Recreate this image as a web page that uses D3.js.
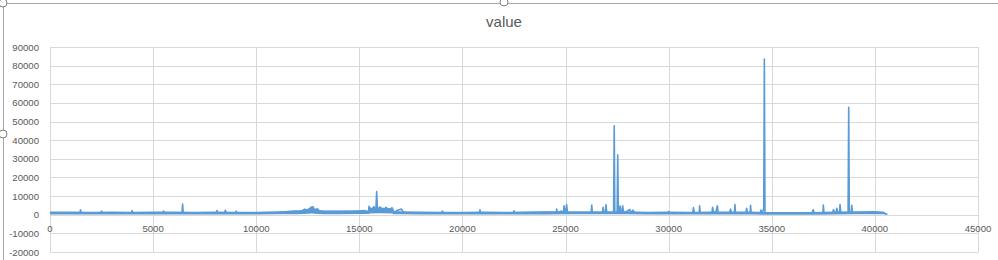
<!DOCTYPE html>
<html>
<head>
<meta charset="utf-8">
<script src="https://cdn.jsdelivr.net/npm/d3@7"></script>
<style>
  body { margin: 0; background: #fff; }
  svg { display: block; font-family: "Liberation Sans", Arial, sans-serif; }
  .grid line { stroke: #d9d9d9; stroke-width: 1; shape-rendering: crispEdges; }
  .tick-label { fill: #595959; font-size: 9.6px; }
  .title { fill: #595959; font-size: 15px; }
  .series { fill: none; stroke: #5b9bd5; stroke-width: 1.6; stroke-linejoin: round; }
  .band { fill: #5b9bd5; stroke: none; }
  .frame { stroke: #a6a6a6; stroke-width: 1; fill: none; }
  .handle { fill: #fff; stroke: #7f7f7f; stroke-width: 1; }
</style>
</head>
<body>
<svg id="chart" width="998" height="260"></svg>
<script>
const chartTitle = 'value';
const xTicks = [0, 5000, 10000, 15000, 20000, 25000, 30000, 35000, 40000, 45000];
const yTicks = [-20000, -10000, 0, 10000, 20000, 30000, 40000, 50000, 60000, 70000, 80000, 90000];

// dense noise of the line: low / high envelope
const bandX  = [0, 1000, 2000, 3000, 4000, 5000, 6000, 7000, 8000, 9000, 10000, 11000, 12000, 12300, 12700, 12950, 13300,
                14000, 15000, 15450, 15500, 16000, 16600, 16650, 17000, 18000, 19000, 20000, 21000, 22000, 23000, 24000, 25000,
                26000, 27000, 28000, 29000, 30000, 31000, 32000, 33000, 34000, 34700, 35000, 36000, 37000, 38000, 39000, 40000,
                40400, 40600];
const bandLo = [100, 100, 100, 100, 100, 100, 100, 100, 100, 100, 100, 200, 300, 400, 600, 400, 300,
                300, 400, 400, 700, 800, 700, 300, 200, 100, 100, 100, 100, 100, 100, 100, 200,
                200, 200, 200, 100, 100, 100, 100, 100, 100, 0, 0, 0, 0, 100, 200, 200,
                200, 0];
const bandHi = [1700, 1700, 1600, 1700, 1600, 1700, 1700, 1600, 1700, 1600, 1600, 1900, 2300, 2700, 3900, 2800, 2200,
                2200, 2300, 2300, 3700, 3900, 3500, 2000, 1800, 1700, 1600, 1600, 1700, 1600, 1700, 1800, 1900,
                1900, 1900, 1800, 1600, 1700, 1600, 1700, 1700, 1700, 1500, 1400, 1400, 1500, 1700, 1900, 2000,
                1700, 400];

// [row index, value]
const valueSeries = [
  [0,1000],[1450,1000],[1480,2600],[1520,1000],[2470,1000],[2500,2000],[2530,1000],[3950,1000],[3980,2200],[4020,1000],
  [5470,1000],[5500,2000],[5530,1000],[6400,1000],[6430,5700],[6460,1000],[8070,1000],[8100,2300],[8140,1000],[8470,1000],
  [8500,2400],[8540,1000],[9000,1000],[9030,2000],[9060,1000],[11000,1100],[11450,1600],[11950,2000],[12150,1600],[12350,3000],
  [12500,2000],[12650,4000],[12750,4300],[12850,2200],[12950,3300],[13100,1500],[13250,1800],[14750,1800],[15000,2000],[15250,2200],
  [15400,1500],[15440,1500],[15470,4500],[15600,2000],[15700,4400],[15800,2200],[15840,12400],[15880,2200],[16000,4200],[16150,2000],
  [16300,4000],[16450,2000],[16580,3800],[16700,1200],[16850,2400],[17050,3000],[17150,1000],[19000,1000],[19030,2000],[19060,1000],
  [20820,1000],[20850,2600],[20880,1000],[22470,1000],[22500,2100],[22530,1000],[24300,1300],[24540,1000],[24570,3000],[24600,1000],
  [24800,2000],[24900,1000],[24925,4800],[24990,1000],[25020,1000],[25050,5500],[25100,1000],[26240,1000],[26270,5200],[26300,1000],
  [26790,1000],[26820,4000],[26860,1000],[26930,1000],[26960,5300],[27000,1000],[27330,1000],[27360,47700],[27390,1000],[27500,1000],
  [27530,32100],[27560,1000],[27610,1000],[27640,4700],[27700,1000],[27740,1000],[27770,4800],[27820,1000],[28000,2000],[28120,2800],
  [28200,1000],[28270,2500],[28350,1000],[29950,1000],[30000,1800],[30050,1000],[31170,1000],[31200,3800],[31250,1000],[31480,1000],
  [31500,4800],[31530,1000],[32100,1000],[32130,4000],[32180,1000],[32300,1800],[32360,4800],[32400,1000],[32950,1000],[33000,3000],
  [33050,1000],[33190,1000],[33215,5400],[33240,1000],[33750,1000],[33780,3500],[33820,1000],[33950,1000],[33970,5000],[34000,1000],
  [34450,1000],[34470,2500],[34520,1000],[34610,3000],[34640,83500],[34670,800],[36950,900],[37010,2700],[37060,900],[37480,900],
  [37500,5200],[37530,900],[37960,900],[37990,2800],[38050,1000],[38120,1000],[38150,3500],[38200,1000],[38280,1000],[38310,5500],
  [38350,1000],[38700,1000],[38730,57700],[38760,1000],[38850,1000],[38880,5000],[38910,1000],[40400,1000],[40600,200]
];

/** Excel style line chart */
class LineChart {
  constructor(svg) {
    this.svg = svg;
    this.margin = { left: 50, right: 20, top: 47, bottom: 8 };
    this.width = 998 - this.margin.left - this.margin.right;
    this.height = 260 - this.margin.top - this.margin.bottom;
    this.x = d3.scaleLinear().domain([0, 45000]).range([0, this.width]);
    this.y = d3.scaleLinear().domain([-20000, 90000]).range([this.height, 0]);
    this.g = svg.append('g')
      .attr('transform', `translate(${this.margin.left},${this.margin.top})`);
  }

  // selection frame left over from the spreadsheet
  drawFrame() {
    this.svg.append('line').attr('class', 'frame')
      .attr('x1', 0).attr('x2', 998).attr('y1', 3.5).attr('y2', 3.5);
    this.svg.append('line').attr('class', 'frame')
      .attr('x1', 3.5).attr('x2', 3.5).attr('y1', 3.5).attr('y2', 260);
    this.svg.selectAll('circle.handle')
      .data([[3, 3], [504, 2], [3, 134]])
      .enter()
      .append('circle')
      .attr('class', 'handle')
      .attr('cx', d => d[0])
      .attr('cy', d => d[1])
      .attr('r', 4)
    ;
  }

  drawGrid() {
    let grid = this.g.append('g').attr('class', 'grid');
    grid.selectAll('line.h')
      .data(yTicks)
      .enter()
      .append('line')
      .attr('x1', 0).attr('x2', this.width)
      .attr('y1', d => Math.round(this.y(d)) + 0.5)
      .attr('y2', d => Math.round(this.y(d)) + 0.5)
    ;
    grid.selectAll('line.v')
      .data(xTicks)
      .enter()
      .append('line')
      .attr('y1', 0).attr('y2', this.height)
      .attr('x1', d => Math.round(this.x(d)) + 0.5)
      .attr('x2', d => Math.round(this.x(d)) + 0.5)
    ;
  }

  drawLabels() {
    this.g.selectAll('text.ylab')
      .data(yTicks)
      .enter()
      .append('text')
      .attr('class', 'tick-label')
      .attr('text-anchor', 'end')
      .attr('x', -11)
      .attr('y', d => this.y(d) + 3.5)
      .text(d => d)
    ;
    // x labels sit just under the zero line
    this.g.selectAll('text.xlab')
      .data(xTicks)
      .enter()
      .append('text')
      .attr('class', 'tick-label')
      .attr('text-anchor', 'middle')
      .attr('x', d => this.x(d))
      .attr('y', this.y(0) + 17.5)
      .text(d => d)
    ;
    this.svg.append('text')
      .attr('class', 'title')
      .attr('text-anchor', 'middle')
      .attr('x', 504)
      .attr('y', 27)
      .text(chartTitle)
    ;
  }

  drawSeries() {
    let area = d3.area()
      .x((d, i) => this.x(bandX[i]))
      .y0((d, i) => this.y(bandLo[i]))
      .y1((d, i) => this.y(bandHi[i]));
    this.g.append('path')
      .datum(bandX)
      .attr('class', 'band')
      .attr('d', area)
    ;
    let line = d3.line()
      .x(d => this.x(d[0]))
      .y(d => this.y(d[1]));
    this.g.append('path')
      .datum(valueSeries)
      .attr('class', 'series')
      .attr('d', line)
    ;
  }
}

let chart = new LineChart(d3.select('#chart'));
chart.drawFrame();
chart.drawGrid();
chart.drawSeries();
chart.drawLabels();
</script>
</body>
</html>
